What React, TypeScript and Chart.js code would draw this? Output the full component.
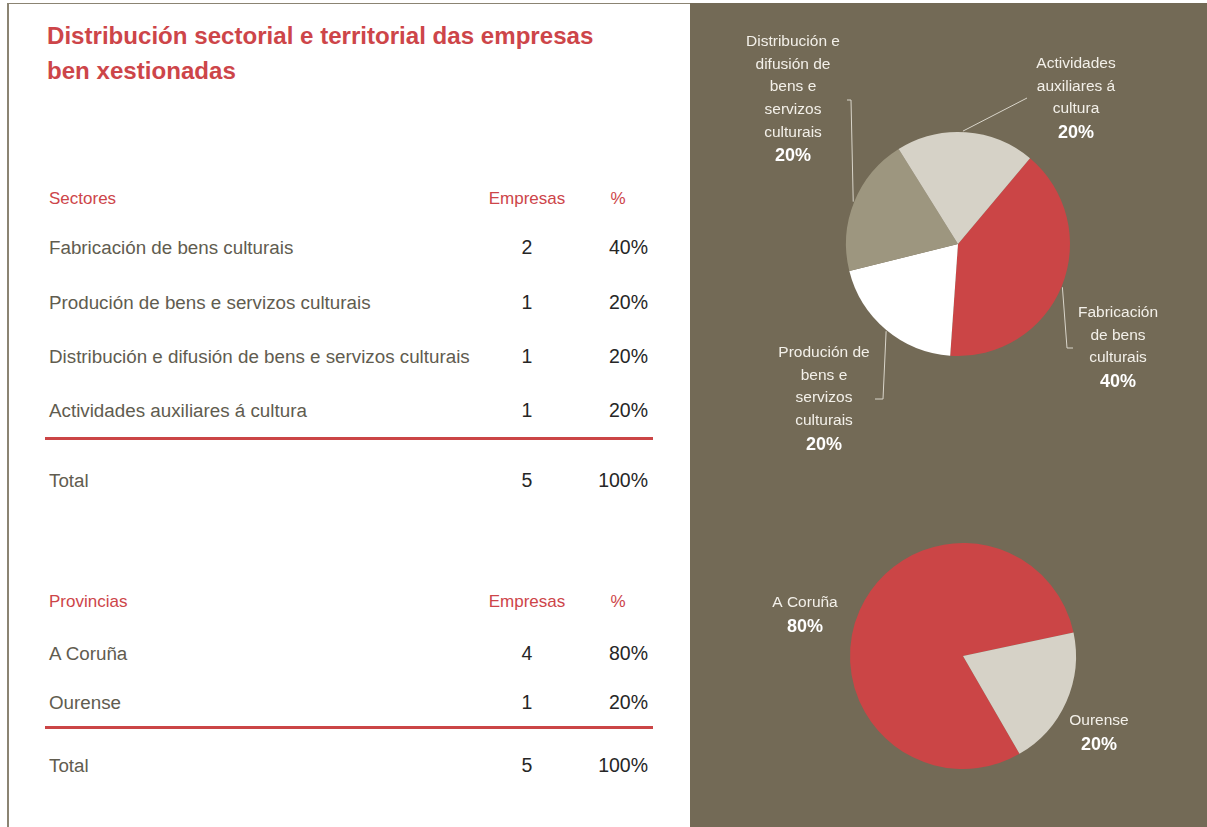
import React, { useEffect, useRef } from "react";
import { Chart, registerables } from "chart.js";

Chart.register(...registerables);

const titleLines = ["Distribución sectorial e territorial das empresas", "ben xestionadas"];

const sectorHeader = ["Sectores", "Empresas", "%"];
const sectorLabels = [
  "Fabricación de bens culturais",
  "Produción de bens e servizos culturais",
  "Distribución e difusión de bens e servizos culturais",
  "Actividades auxiliares á cultura",
];
const sectorCompanies = [2, 1, 1, 1];
const sectorPercents = ["40%", "20%", "20%", "20%"];
const sectorTotal = ["Total", "5", "100%"];

const provinceHeader = ["Provincias", "Empresas", "%"];
const provinceLabels = ["A Coruña", "Ourense"];
const provinceCompanies = [4, 1];
const provincePercents = ["80%", "20%"];
const provinceTotal = ["Total", "5", "100%"];

const sectorPieLabels = [
  ["Fabricación", "de bens", "culturais"],
  ["Produción de", "bens e", "servizos", "culturais"],
  ["Distribución e", "difusión de", "bens e", "servizos", "culturais"],
  ["Actividades", "auxiliares á", "cultura"],
];
const provincePieLabels = [["A Coruña"], ["Ourense"]];

const sectorColors = ["#cb4546", "#ffffff", "#9d967f", "#d6d2c7"];
const provinceColors = ["#cb4546", "#d6d2c7"];

const RED = "#cd4549";
const BROWN = "#736a56";
const FONT = "'Liberation Sans', Arial, sans-serif";

// label placement (layout only): offsets from pie centre, leader anchor angle and bends
const sectorLabelLayout = [
  { dx: 160, dy: 69, anchor: 112.5, bends: [[109, 104], [115, 104]] },
  { dx: -134, dy: 109, anchor: 219.5, bends: [[-75, 155], [-83, 155]] },
  { dx: -165, dy: -202, anchor: 292, bends: [[-107, -144], [-111, -144]] },
  { dx: 118, dy: -180, anchor: 2.5, bends: [[69, -146]] },
];
const provinceLabelLayout = [
  { dx: -158, dy: -53, anchor: null, bends: [] },
  { dx: 136, dy: 65, anchor: null, bends: [] },
];

function makeLabelPlugin(texts: string[][], percents: string[], layout: any[]) {
  return {
    id: "pieLabels",
    afterDraw(chart: any) {
      const meta = chart.getDatasetMeta(0);
      const ctx = chart.ctx;
      ctx.save();
      layout.forEach((l, i) => {
        const arc = meta.data[i];
        const { x, y, outerRadius } = arc.getProps(["x", "y", "outerRadius"], true);
        if (l.anchor !== null) {
          const a = (l.anchor * Math.PI) / 180;
          ctx.beginPath();
          ctx.strokeStyle = "#d9d5ca";
          ctx.lineWidth = 1;
          ctx.moveTo(x + (outerRadius + 1) * Math.sin(a), y - (outerRadius + 1) * Math.cos(a));
          l.bends.forEach((b: number[]) => ctx.lineTo(x + b[0], y + b[1]));
          ctx.stroke();
        }
        const lines = texts[i];
        ctx.fillStyle = "#f3f0e9";
        ctx.textAlign = "center";
        ctx.textBaseline = "middle";
        ctx.font = `15.5px ${FONT}`;
        lines.forEach((t, k) => {
          ctx.fillText(t, x + l.dx, y + l.dy + k * 22.6);
        });
        ctx.font = `bold 18px ${FONT}`;
        ctx.fillStyle = "#ffffff";
        ctx.fillText(percents[i], x + l.dx, y + l.dy + lines.length * 22.9 + (lines.length === 1 ? 1 : 0));
      });
      ctx.restore();
    },
  };
}

function PieCanvas(props: {
  left: number; top: number; width: number; height: number;
  data: number[]; labels: string[]; colors: string[]; rotation: number;
  padding: { left: number; right: number; top: number; bottom: number };
  plugin: any;
}) {
  const ref = useRef<HTMLCanvasElement | null>(null);
  useEffect(() => {
    if (!ref.current) return;
    const chart = new Chart(ref.current, {
      type: "pie",
      data: {
        labels: props.labels,
        datasets: [{ data: props.data, backgroundColor: props.colors, borderWidth: 0 }],
      },
      options: {
        responsive: false,
        animation: false,
        devicePixelRatio: 1,
        rotation: props.rotation,
        layout: { padding: props.padding },
        plugins: { legend: { display: false }, tooltip: { enabled: false } },
        events: [],
      },
      plugins: [props.plugin],
    } as any);
    return () => chart.destroy();
  }, []);
  return (
    <canvas
      ref={ref}
      width={props.width}
      height={props.height}
      style={{ position: "absolute", left: props.left, top: props.top, width: props.width, height: props.height }}
    />
  );
}

function Txt(props: { x: number; y: number; text: string; align?: "left" | "center" | "right"; size: number; color: string; bold?: boolean }) {
  const { x, y, text, align = "left", size, color, bold } = props;
  const tx = align === "left" ? "0" : align === "center" ? "-50%" : "-100%";
  return (
    <div
      style={{
        position: "absolute",
        left: x,
        top: y,
        transform: `translate(${tx}, -50%)`,
        fontFamily: FONT,
        fontSize: size,
        lineHeight: 1,
        color,
        fontWeight: bold ? 700 : 400,
        whiteSpace: "nowrap",
      }}
    >
      {text}
    </div>
  );
}

function Table(props: {
  header: string[]; labels: string[]; counts: number[]; pcts: string[]; total: string[];
  headerY: number; rowYs: number[]; lineY: number; totalY: number;
}) {
  const { header, labels, counts, pcts, total, headerY, rowYs, lineY, totalY } = props;
  const LBL = "#615c4f";
  const NUM = "#262626";
  return (
    <>
      <Txt x={49} y={headerY} text={header[0]} size={17} color={RED} />
      <Txt x={527} y={headerY} text={header[1]} size={17} color={RED} align="center" />
      <Txt x={618} y={headerY} text={header[2]} size={17} color={RED} align="center" />
      {labels.map((l, i) => (
        <React.Fragment key={l}>
          <Txt x={49} y={rowYs[i]} text={l} size={18.8} color={LBL} />
          <Txt x={527} y={rowYs[i]} text={String(counts[i])} size={19.5} color={NUM} align="center" />
          <Txt x={648} y={rowYs[i]} text={pcts[i]} size={19.5} color={NUM} align="right" />
        </React.Fragment>
      ))}
      <div style={{ position: "absolute", left: 45, top: lineY, width: 608, height: 3, background: "#cb4546" }} />
      <Txt x={49} y={totalY} text={total[0]} size={18.8} color={LBL} />
      <Txt x={527} y={totalY} text={total[1]} size={19.5} color={NUM} align="center" />
      <Txt x={648} y={totalY} text={total[2]} size={19.5} color={NUM} align="right" />
    </>
  );
}

export default function App() {
  return (
    <div style={{ position: "absolute", left: 0, top: 0, width: 1207, height: 827, background: "#ffffff", overflow: "hidden" }}>
      <div style={{ position: "absolute", left: 7, top: 3, width: 2, height: 824, background: "#8b8473" }} />
      <div style={{ position: "absolute", left: 7, top: 3, width: 683, height: 1, background: "#8b8473" }} />
      <div style={{ position: "absolute", left: 47, top: 18, fontFamily: FONT, fontWeight: 700, fontSize: 24.1, lineHeight: "35px", color: RED }}>
        {titleLines.map((t) => (
          <div key={t} style={{ whiteSpace: "nowrap" }}>{t}</div>
        ))}
      </div>
      <Table
        header={sectorHeader}
        labels={sectorLabels}
        counts={sectorCompanies}
        pcts={sectorPercents}
        total={sectorTotal}
        headerY={198}
        rowYs={[248, 303, 357, 411]}
        lineY={437}
        totalY={481}
      />
      <Table
        header={provinceHeader}
        labels={provinceLabels}
        counts={provinceCompanies}
        pcts={provincePercents}
        total={provinceTotal}
        headerY={601}
        rowYs={[654, 703]}
        lineY={726}
        totalY={766}
      />
      <div style={{ position: "absolute", left: 690, top: 3, width: 517, height: 824, background: BROWN }} />
      <PieCanvas
        left={690}
        top={3}
        width={517}
        height={467}
        data={sectorCompanies}
        labels={sectorLabels}
        colors={sectorColors}
        rotation={40}
        padding={{ left: 156, right: 137, top: 129, bottom: 114 }}
        plugin={makeLabelPlugin(sectorPieLabels, sectorPercents, sectorLabelLayout)}
      />
      <PieCanvas
        left={690}
        top={470}
        width={517}
        height={357}
        data={provinceCompanies}
        labels={provinceLabels}
        colors={provinceColors}
        rotation={150}
        padding={{ left: 160, right: 131, top: 73, bottom: 58 }}
        plugin={makeLabelPlugin(provincePieLabels, provincePercents, provinceLabelLayout)}
      />
    </div>
  );
}
